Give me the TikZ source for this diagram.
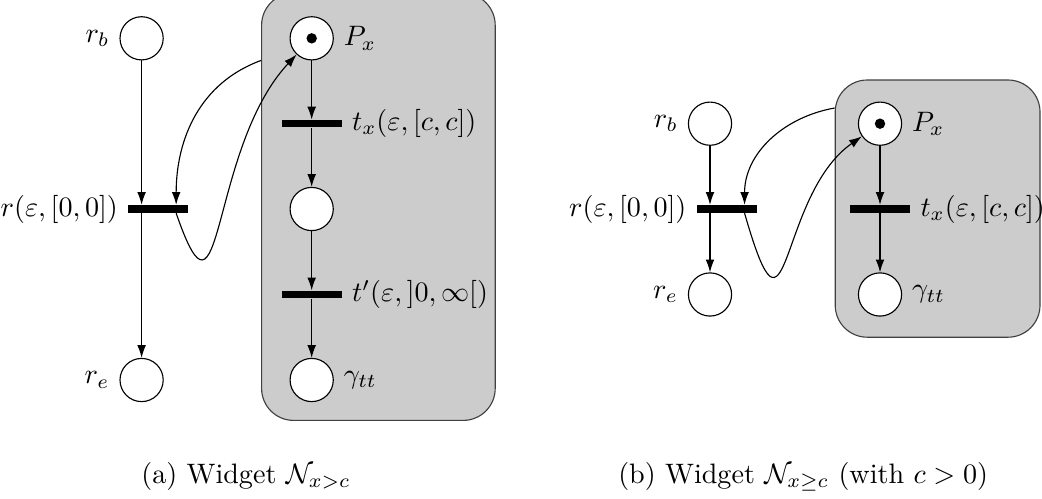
\documentclass[tikz,border=0pt]{standalone}
\usepackage{amsmath}
\usetikzlibrary{positioning, arrows.meta}

\begin{document}
\begin{tikzpicture}[
  place/.style={circle, draw, fill=white, minimum size=0.54cm, inner sep=0pt},
  trans/.style={rectangle, fill=black, minimum width=0.75cm, minimum height=0.09cm, inner sep=0pt},
  token/.style={circle, fill=black, minimum size=0.13cm, inner sep=0pt},
  widget/.style={draw=black!75, fill=black!20, rounded corners=0.4cm},
  arr/.style={-{Latex[length=1.6mm, width=1.1mm]}}]
\useasboundingbox (0,0) rectangle (13.025,6.225);

% (a) widget N_{x>c}
\node[widget, minimum width=2.92cm, minimum height=5.34cm] (wA) at (4.73,3.64) {};
\node[place, label=left:$r_b$] (rbA) at (1.77,5.746) {};
\node[trans, label=left:{$r(\varepsilon,[0,0])$}] (rA) at (1.98,3.6125) {};
\node[place, label=left:$r_e$] (reA) at (1.77,1.475) {};
\node[place, label=right:$P_x$] (PxA) at (3.896,5.746) {};
\node[token] (tokA) at (PxA) {};
\node[trans, label=right:{$t_x(\varepsilon,[c,c])$}] (txA) at (3.896,4.679) {};
\node[place] (midA) at (3.896,3.6125) {};
\node[trans, label={right:{$t'(\varepsilon,]0,\infty[)$}}] (tpA) at (3.896,2.544) {};
\node[place, label=right:$\gamma_{tt}$] (gA) at (3.896,1.475) {};

\draw[arr] (rbA) -- (rbA |- rA.north);
\draw[arr] (rbA |- rA.south) -- (reA);
\draw[arr] (PxA) -- (txA);
\draw[arr] (txA) -- (midA);
\draw[arr] (midA) -- (tpA);
\draw[arr] (tpA) -- (gA);
\draw[arr] (wA.west |- PxA.south) to[out=200, in=90] ([xshift=-1.6mm]rA.north east);
\draw[arr] ([xshift=-1.6mm]rA.south east) to[out=-71, in=-133, out distance=1.82cm, in distance=1.62cm] (PxA);

% (b) widget N_{x>=c}
\node[widget, minimum width=2.56cm, minimum height=3.215cm] (wB) at (11.72,3.6175) {};
\node[place, label=left:$r_b$] (rbB) at (8.875,4.679) {};
\node[trans, label=left:{$r(\varepsilon,[0,0])$}] (rB) at (9.085,3.6125) {};
\node[place, label=left:$r_e$] (reB) at (8.875,2.544) {};
\node[place, label=right:$P_x$] (PxB) at (11,4.679) {};
\node[token] (tokB) at (PxB) {};
\node[trans, label=right:{$t_x(\varepsilon,[c,c])$}] (txB) at (11,3.6125) {};
\node[place, label=right:$\gamma_{tt}$] (gB) at (11,2.544) {};

\draw[arr] (rbB) -- (rbB |- rB.north);
\draw[arr] (rbB |- rB.south) -- (reB);
\draw[arr] (PxB) -- (txB);
\draw[arr] (txB) -- (gB);
\draw[arr] (wB.west |- PxB.north east) to[out=190, in=90] ([xshift=-1.6mm]rB.north east);
\draw[arr] ([xshift=-1.6mm]rB.south east) to[out=-74, in=-145, out distance=2.05cm, in distance=1.3cm] (PxB);

% captions
\node (capA) at (3.075,0.27) {(a) Widget $\mathcal{N}_{x>c}$};
\node (capB) at (10.04,0.27) {(b) Widget $\mathcal{N}_{x\geq c}$ (with $c>0$)};
\end{tikzpicture}
\end{document}
